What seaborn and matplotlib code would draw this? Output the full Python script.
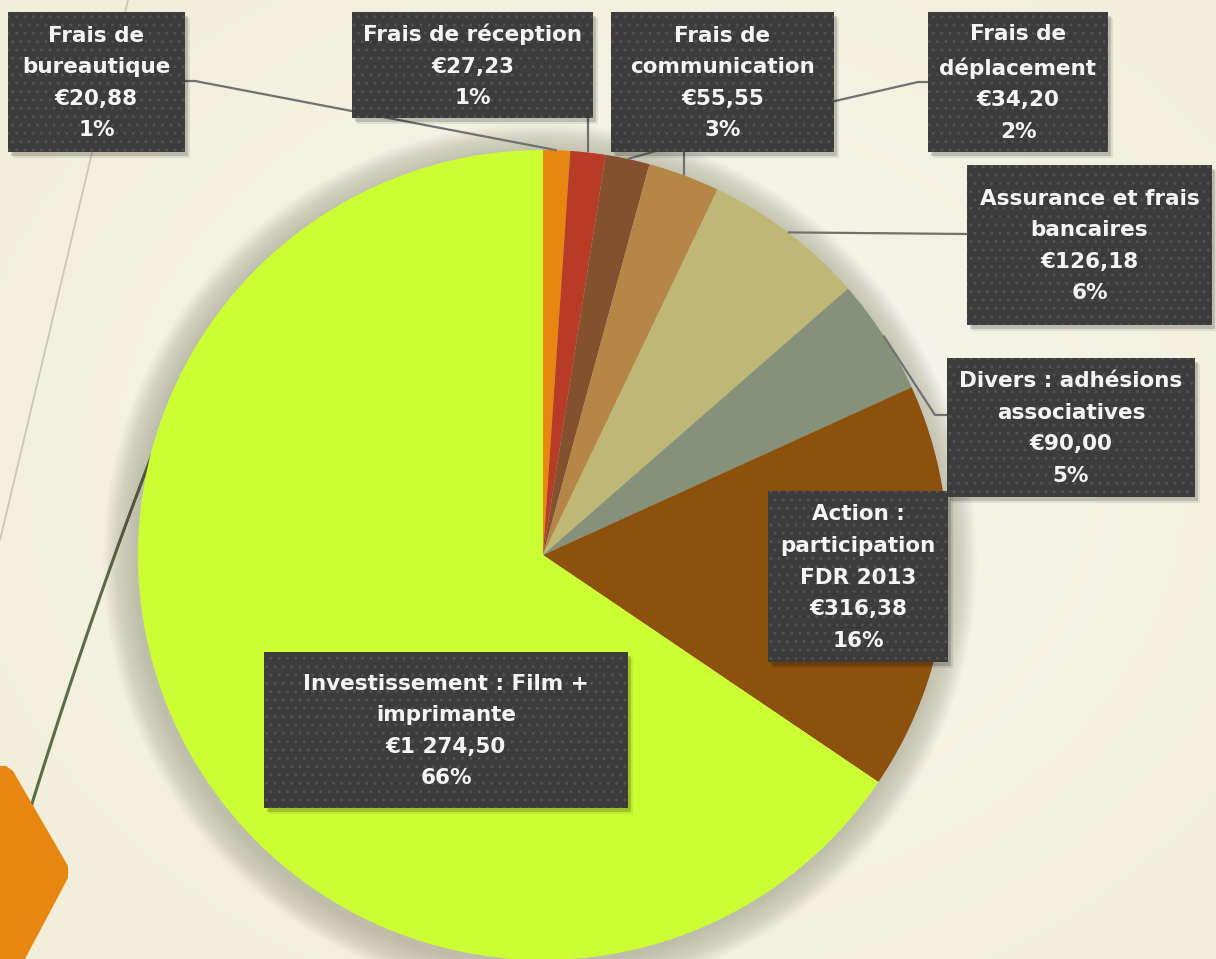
import numpy as np
import matplotlib
matplotlib.use("Agg")
import matplotlib.pyplot as plt
from matplotlib.patches import Rectangle, Circle, Polygon
import seaborn as sns

# ---------------- data ----------------
categories = [
    "Frais de\nbureautique",
    "Frais de réception",
    "Frais de\ndéplacement",
    "Frais de\ncommunication",
    "Assurance et frais\nbancaires",
    "Divers : adhésions\nassociatives",
    "Action :\nparticipation\nFDR 2013",
    "Investissement : Film +\nimprimante",
]
values = [20.88, 27.23, 34.20, 55.55, 126.18, 90.00, 316.38, 1274.50]
colors = ["#E8870F", "#B83B26", "#83512D", "#B58646",
          "#BEB776", "#85917A", "#8C510C", "#CCFF33"]

# ---------------- layout (pixel coordinates) ----------------
W, H = 1216, 959
pie_center = (543, 555)
pie_radius = 405
boxes = [
    (8, 12, 185, 152),
    (352, 12, 593, 118),
    (928, 12, 1108, 152),
    (611, 12, 834, 152),
    (967, 165, 1212, 325),
    (947, 358, 1195, 497),
    (768, 491, 948, 662),
    (264, 652, 628, 808),
]
leaders = [
    [(195, 81), (185, 81)],
    [(588, 118)],
    [(835, 101), (918, 82), (928, 82)],
    [(684, 152)],
    [(967, 234)],
    [(935, 415), (947, 415)],
    None,
    None,
]


def fmt_eur(v):
    s = f"{v:,.2f}"
    ent, dec = s.split(".")
    return "€" + ent.replace(",", " ") + "," + dec


sns.set_theme(style="white")
plt.rcParams["font.family"] = ["DejaVu Sans"]
plt.rcParams["hatch.linewidth"] = 1.0

fig = plt.figure(figsize=(W / 100, H / 100), dpi=100)
ax = fig.add_axes([0, 0, 1, 1])

# background gradient
yy, xx = np.mgrid[0:H, 0:W]
d = np.sqrt(((xx - 650) / 800.0) ** 2 + ((yy - 470) / 650.0) ** 2)
d = np.clip(d, 0, 1)[..., None]
light = np.array([248, 247, 240]) / 255.0
dark = np.array([241, 238, 218]) / 255.0
bg = light * (1 - d) + dark * d
ax.imshow(bg, extent=(0, W, H, 0), zorder=0, interpolation="bilinear")

# decorative lines
t = np.linspace(0, 1, 100)
p0, p1, p2 = np.array([128, 0]), np.array([62, 280]), np.array([0, 540])
curve = ((1 - t) ** 2)[:, None] * p0 + (2 * (1 - t) * t)[:, None] * p1 + (t ** 2)[:, None] * p2
ax.plot(curve[:, 0], curve[:, 1], color="#C9C8B6", lw=1.3, zorder=1)
p0, p1, p2 = np.array([152, 455]), np.array([92, 610]), np.array([30, 810])
curve = ((1 - t) ** 2)[:, None] * p0 + (2 * (1 - t) * t)[:, None] * p1 + (t ** 2)[:, None] * p2
ax.plot(curve[:, 0], curve[:, 1], color="#5B6C47", lw=2.2, zorder=1)

# orange hexagon shape
ax.add_patch(Polygon([(0, 766), (6, 766), (13, 771), (68, 866), (68, 878),
                      (25, 959), (0, 959)], closed=True,
                     facecolor="#E8870F", edgecolor="none", zorder=2))

# soft pie shadow
n_sh = 36
for k in range(n_sh):
    ax.add_patch(Circle((pie_center[0] - 3, pie_center[1] + 5),
                        pie_radius + (n_sh - k) * 0.9,
                        facecolor="#55553F", edgecolor="none", alpha=0.0062, zorder=2))

# pie (y axis inverted -> counterclock=True gives visual clockwise from top)
wedges, _ = ax.pie(values, colors=colors, startangle=270, counterclock=True,
                   center=pie_center, radius=pie_radius,
                   wedgeprops=dict(linewidth=0, zorder=3))

ax.set_xlim(0, W)
ax.set_ylim(H, 0)
ax.set_aspect("equal", adjustable="box")
ax.axis("off")

total = sum(values)
for w, name, v, box, lead in zip(wedges, categories, values, boxes, leaders):
    x0, y0, x1, y1 = box
    # leader line from wedge mid-angle on the rim
    if lead is not None:
        th = np.deg2rad((w.theta1 + w.theta2) / 2)
        ax0 = pie_center[0] + pie_radius * np.cos(th)
        ay0 = pie_center[1] + pie_radius * np.sin(th)
        pts = [(ax0, ay0)] + lead
        ax.plot([p[0] for p in pts], [p[1] for p in pts], color="#707070",
                lw=1.6, zorder=4, solid_capstyle="butt")
    # shadow
    ax.add_patch(Rectangle((x0 + 3, y0 + 4), x1 - x0, y1 - y0, facecolor="black",
                           edgecolor="none", alpha=0.16, zorder=5))
    ax.add_patch(Rectangle((x0 + 5, y0 + 6), x1 - x0, y1 - y0, facecolor="black",
                           edgecolor="none", alpha=0.08, zorder=5))
    # box
    ax.add_patch(Rectangle((x0, y0), x1 - x0, y1 - y0, facecolor="#3C3C3C",
                           edgecolor="#515151", hatch="..", lw=0, zorder=6))
    pct = round(v / total * 100)
    label = f"{name}\n{fmt_eur(v)}\n{pct}%"
    ax.text((x0 + x1) / 2, (y0 + y1) / 2 + 1, label, ha="center", va="center",
            color="#F4F4F4", fontsize=15.5, fontweight="bold", linespacing=1.72,
            zorder=7)

fig.savefig("out.png", dpi=100)
